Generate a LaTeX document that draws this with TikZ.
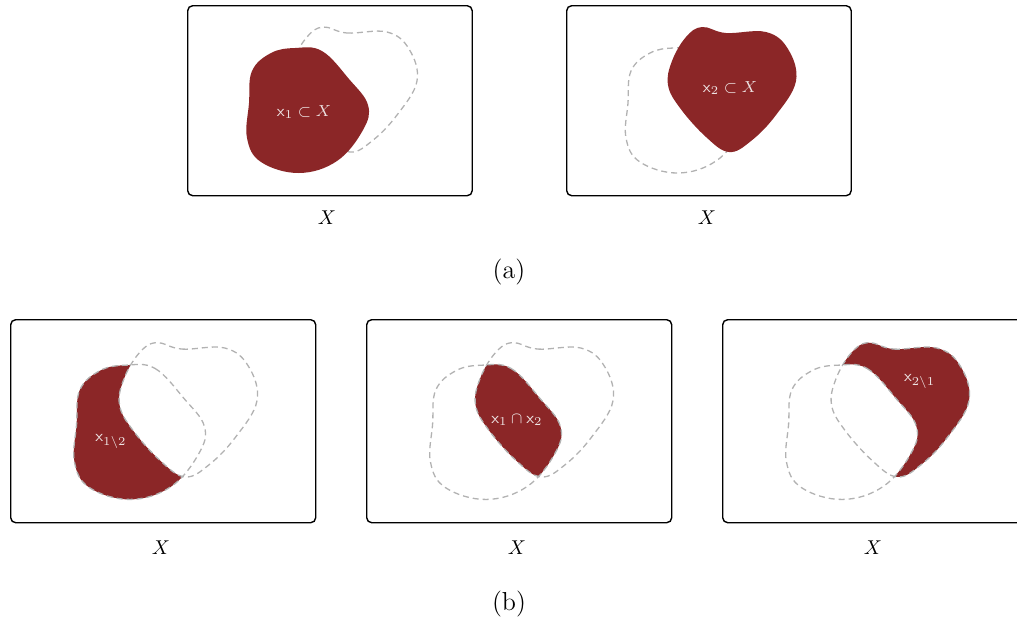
\documentclass[tikz,border=0pt]{standalone}
\usepackage{amsmath,amssymb}
\definecolor{blobred}{RGB}{139,38,39}
\definecolor{dashgray}{RGB}{178,178,178}
\definecolor{labcol}{RGB}{238,228,228}
\def\blobA{plot[smooth cycle, tension=0.65] coordinates {(108,43) (135,46) (162,74) (181,100) (176,125) (150,156) (112,168) (74,157) (60,133) (62,98) (65,66) (84,48)}}
\def\blobB{plot[smooth cycle, tension=0.65] coordinates {(136,22) (160,28) (200,27) (222,44) (230,76) (210,110) (185,136) (163,147) (140,132) (114,103) (102,80) (106,56) (120,32)}}
\begin{document}
\begin{tikzpicture}[x=0.5pt,y=-0.5pt,
 box/.style={draw=black, line width=0.7pt, rounded corners=2.5pt, anchor=north west, inner sep=0pt},
 boxa/.style={box, minimum width=142.25pt, minimum height=95pt},
 boxb/.style={box, minimum width=152.5pt, minimum height=101.5pt},
 outl/.style={draw=dashgray, line width=0.65pt, dash pattern=on 3pt off 2pt},
 lab/.style={text=labcol, font=\fontsize{8.5}{9}\selectfont, inner sep=0pt},
 setlab/.style={font=\fontsize{10}{12}\selectfont, inner sep=0pt},
 captext/.style={font=\fontsize{13}{15}\selectfont, inner sep=0pt}]
\clip (0,0) rectangle (1017,623);
% boxes
\node[boxa] (bA1) at (187,5) {};
\node[boxa] (bA2) at (566,5) {};
\node[boxb] (bB1) at (10,319) {};
\node[boxb] (bB2) at (366,319) {};
\node[boxb] (bB3) at (722,319) {};
% (a) left
\begin{scope}[shift={(187,5)}]
 \draw[outl] \blobB;
 \fill[blobred] \blobA;
 \node[lab] (l1) at (117,107) {$\mathsf{x}_1\subset X$};
\end{scope}
% (a) right
\begin{scope}[shift={(566,5)}]
 \draw[outl] \blobA;
 \fill[blobred] \blobB;
 \node[lab] (l2) at (164,83) {$\mathsf{x}_2\subset X$};
\end{scope}
% (b) left
\begin{scope}[shift={(10,319)}, scale=1.074]
 \begin{scope}
  \clip \blobA;
  \fill[blobred, even odd rule] (-10,-10) rectangle (300,200) \blobB;
 \end{scope}
 \draw[outl] \blobA;
 \draw[outl] \blobB;
 \node[lab] (l3) at (94,114) {$\mathsf{x}_{1\setminus 2}$};
\end{scope}
% (b) middle
\begin{scope}[shift={(366,319)}, scale=1.074]
 \begin{scope}
  \clip \blobA;
  \fill[blobred] \blobB;
 \end{scope}
 \draw[outl] \blobA;
 \draw[outl] \blobB;
 \node[lab] (l4) at (140.5,94) {$\mathsf{x}_1\cap\mathsf{x}_2$};
\end{scope}
% (b) right
\begin{scope}[shift={(722,319)}, scale=1.074]
 \begin{scope}
  \clip \blobB;
  \fill[blobred, even odd rule] (-10,-10) rectangle (300,200) \blobA;
 \end{scope}
 \draw[outl] \blobA;
 \draw[outl] \blobB;
 \node[lab] (l5) at (184,58) {$\mathsf{x}_{2\setminus 1}$};
\end{scope}
% set labels
\node[setlab] (X1) at (327,218) {$X$};
\node[setlab] (X2) at (707,218) {$X$};
\node[setlab] (X3) at (161,548) {$X$};
\node[setlab] (X4) at (517,548) {$X$};
\node[setlab] (X5) at (873,548) {$X$};
% captions
\node[captext] (ca) at (509,272) {(a)};
\node[captext] (cb) at (509,604) {(b)};
\end{tikzpicture}
\end{document}
